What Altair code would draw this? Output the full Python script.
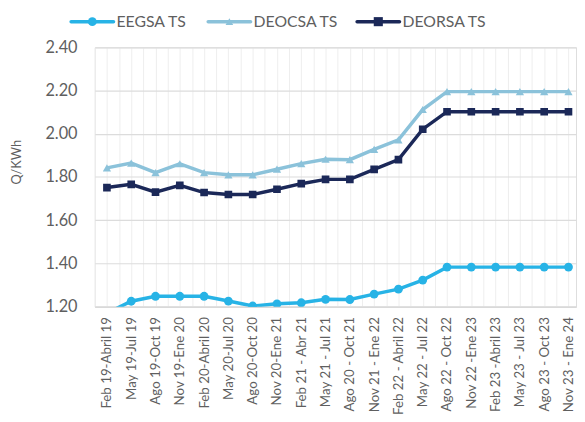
import json
import altair as alt
import pandas as pd

periods = [
    "Feb 19-Abril 19", "May 19-Jul 19", "Ago 19-Oct 19", "Nov 19-Ene 20",
    "Feb 20-Abril 20", "May 20-Jul 20", "Ago 20-Oct 20", "Nov 20-Ene 21",
    "Feb 21 - Abr 21", "May 21 - Jul 21", "Ago 20 - Oct 21", "Nov 21 - Ene 22",
    "Feb 22 - Abril 22", "May 22 - Jul 22", "Ago 22 - Oct 22", "Nov 22 -Ene 23",
    "Feb 23 -Abril 23", "May 23 - Jul 23", "Ago 23 - Oct 23", "Nov 23 - Ene 24",
]
eegsa = [1.17, 1.225, 1.248, 1.248, 1.248, 1.226, 1.203, 1.213, 1.218, 1.234,
         1.233, 1.258, 1.281, 1.323, 1.383, 1.383, 1.383, 1.383, 1.383, 1.383]
deocsa = [1.842, 1.864, 1.820, 1.861, 1.820, 1.810, 1.810, 1.836, 1.862, 1.882,
          1.880, 1.928, 1.972, 2.112, 2.195, 2.195, 2.195, 2.195, 2.195, 2.195]
deorsa = [1.751, 1.766, 1.730, 1.761, 1.728, 1.719, 1.719, 1.743, 1.769, 1.789,
          1.789, 1.835, 1.880, 2.021, 2.102, 2.102, 2.102, 2.102, 2.102, 2.102]

series_names = ["EEGSA TS", "DEOCSA TS", "DEORSA TS"]
colors = ["#27b3e6", "#8bc2da", "#1b2858"]
shapes = ["circle", "triangle-up", "square"]
sizes = [80, 60, 85]
y_ticks = [1.2, 1.4, 1.6, 1.8, 2.0, 2.2, 2.4]

rows = []
for i, p in enumerate(periods):
    for name, vals in zip(series_names, [eegsa, deocsa, deorsa]):
        rows.append({"idx": i, "period": p, "series": name, "value": vals[i]})
df = pd.DataFrame(rows)

FONT = "Lato"
TXT = "#5f5f5f"

label_expr = "datum.value % 1 == 0 ? " + json.dumps(periods) + "[datum.value] : ''"

x_enc = alt.X(
    "idx:Q",
    scale=alt.Scale(domain=[-0.5, 19.31], nice=False, zero=False),
    axis=alt.Axis(
        values=[k / 2 for k in range(-1, 39)],
        labelExpr=label_expr,
        labelAngle=-90,
        labelAlign="right",
        labelBaseline="middle",
        labelFontSize=13.5,
        labelFont=FONT,
        labelColor=TXT,
        labelPadding=10,
        labelOverlap=False,
        labelFlush=False,
        ticks=False,
        grid=True,
        gridColor="#eeeeee",
        gridWidth=1,
        domain=True,
        domainColor="#d9d9d9",
        domainWidth=1.5,
        title=None,
    ),
)
y_enc = alt.Y(
    "value:Q",
    scale=alt.Scale(domain=[1.2, 2.4], nice=False, zero=False),
    axis=alt.Axis(
        values=y_ticks,
        format=".2f",
        labelFontSize=16.5,
        labelFont=FONT,
        labelColor=TXT,
        labelPadding=18,
        ticks=False,
        domain=False,
        grid=True,
        gridColor="#dcdcdc",
        gridWidth=1.2,
        title="Q/KWh",
        titleFont=FONT,
        titleFontSize=13,
        titleFontWeight="normal",
        titleColor=TXT,
        titleX=-79,
        titleY=116,
        titleAngle=-90,
        titleAlign="center",
        titleBaseline="middle",
    ),
)
color_enc = alt.Color("series:N", scale=alt.Scale(domain=series_names, range=colors), legend=None)

base = alt.Chart(df)
lines = base.mark_line(strokeWidth=3.5, clip=True).encode(
    x=x_enc, y=y_enc, color=color_enc, detail="series:N"
)
points = base.mark_point(filled=True, opacity=1, clip=True).encode(
    x=x_enc,
    y=y_enc,
    color=color_enc,
    shape=alt.Shape("series:N", scale=alt.Scale(domain=series_names, range=shapes), legend=None),
    size=alt.Size("series:N", scale=alt.Scale(domain=series_names, range=sizes), legend=None),
)

legend_layers = []
legend_x = [-24, 115, 266]
LY = -26
for name, col, shp, sz, x0 in zip(series_names, colors, shapes, sizes, legend_x):
    one = alt.Chart(alt.InlineData(values=[{"s": name}]))
    legend_layers.append(
        one.mark_rule(color=col, strokeWidth=3.5, strokeCap="round").encode(
            x=alt.value(x0), x2=alt.value(x0 + 43), y=alt.value(LY)
        )
    )
    legend_layers.append(
        one.mark_point(filled=True, opacity=1, shape=shp, size=sz, color=col).encode(
            x=alt.value(x0 + 21.5), y=alt.value(LY)
        )
    )
    legend_layers.append(
        one.mark_text(align="left", baseline="middle", fontSize=16, font=FONT, color=TXT).encode(
            x=alt.value(x0 + 46), y=alt.value(LY), text=alt.value(name)
        )
    )

chart = alt.layer(lines, points, *legend_layers).properties(
    width=488,
    height=263,
    autosize=alt.AutoSizeParams(type="none"),
    padding={"left": 88, "top": 37, "right": 1, "bottom": 106},
).configure_view(stroke=None).configure(background="white")

chart.save("out.html", embed_options={"renderer": "svg", "actions": False})
